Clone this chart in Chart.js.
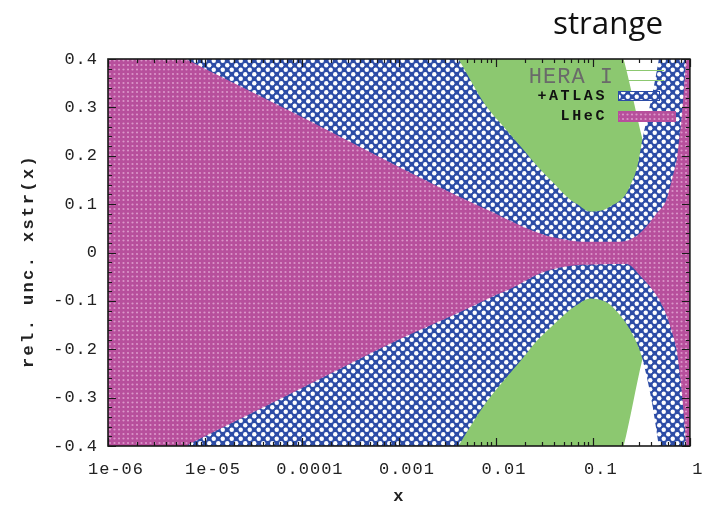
<!DOCTYPE html>
<html><head><meta charset="utf-8">
<script src="https://cdn.jsdelivr.net/npm/chart.js@4/dist/chart.umd.min.js"></script>
<style>html,body{margin:0;padding:0;background:#fff;}canvas{display:block;}</style>
</head><body>
<canvas id="c" width="708" height="508"></canvas>
<script>
// ---- tick labels ----
const xTickValues = [1e-6, 1e-5, 1e-4, 1e-3, 1e-2, 1e-1, 1];
const xTickLabels = ['1e-06', '1e-05', '0.0001', '0.001', '0.01', '0.1', '1'];
const yTickValues = [-0.4, -0.3, -0.2, -0.1, 0, 0.1, 0.2, 0.3, 0.4];
const yTickLabels = ['-0.4', '-0.3', '-0.2', '-0.1', '0', '0.1', '0.2', '0.3', '0.4'];
const seriesNames = ['HERA I', '+ATLAS', 'LHeC'];

// ---- LHeC band (upper / lower relative uncertainty) ----
const lhecX  = [1e-6, 1e-5, 1e-4, 1e-3, 0.005, 0.01, 0.0135, 0.0316, 0.063, 0.1, 0.158, 0.22, 0.32, 0.45, 0.57, 0.65, 0.74, 0.87, 0.91, 1];
const lhecUp = [0.48, 0.38, 0.28, 0.177, 0.108, 0.080, 0.067, 0.036, 0.024, 0.022, 0.022, 0.024, 0.044, 0.080, 0.108, 0.150, 0.200, 0.338, 0.40, 0.60];
const lhecLo = [-0.48, -0.38, -0.28, -0.18, -0.117, -0.088, -0.077, -0.040, -0.027, -0.025, -0.024, -0.024, -0.052, -0.088, -0.128, -0.163, -0.21, -0.34, -0.40, -0.60];

// ---- HERA I + ATLAS band ----
const atlasX  = [1e-6, 1e-4, 1e-3, 0.0025, 0.0041, 0.0079, 0.012, 0.0178, 0.0263, 0.039, 0.0575, 0.069, 0.093, 0.129, 0.151, 0.209, 0.245, 0.288, 0.324, 0.398, 0.479, 0.63, 1];
const atlasUp = [1.2, 0.95, 0.62, 0.47, 0.40, 0.303, 0.26, 0.22, 0.18, 0.144, 0.11, 0.100, 0.085, 0.088, 0.095, 0.115, 0.14, 0.179, 0.234, 0.315, 0.40, 0.55, 0.8];
const atlasLo = [-1.2, -0.95, -0.62, -0.47, -0.40, -0.31, -0.265, -0.225, -0.183, -0.15, -0.119, -0.108, -0.095, -0.10, -0.108, -0.14, -0.162, -0.19, -0.22, -0.30, -0.40, -0.55, -0.8];

// ---- HERA I band ----
const heraX  = [1e-6, 0.01, 0.1, 0.207, 0.324, 0.5, 1];
const heraUp = [1.5, 1.0, 0.6, 0.40, 0.234, 0.08, 0.02];
const heraLo = [-1.5, -1.0, -0.6, -0.40, -0.22, -0.08, -0.02];

const GREEN = '#8cc870', BLUE = '#2c4ca6', MAGENTA = '#b74f9c';

function makePattern(kind) {
  const c = document.createElement('canvas');
  c.width = 9; c.height = 9;
  const g = c.getContext('2d');
  if (kind === 'blue') {
    g.fillStyle = BLUE; g.fillRect(0, 0, 9, 9);
    g.fillStyle = '#ffffff';
    [[2.25, 2.25], [6.75, 6.75]].forEach(([cx, cy]) => { g.beginPath(); g.arc(cx, cy, 2.2, 0, Math.PI * 2); g.fill(); });
  } else {
    g.fillStyle = MAGENTA; g.fillRect(0, 0, 9, 9);
    g.fillStyle = 'rgba(228,168,212,0.8)';
    [[2, 2], [6.5, 2], [2, 6.5], [6.5, 6.5]].forEach(([cx, cy]) => { g.beginPath(); g.arc(cx, cy, 1.1, 0, Math.PI * 2); g.fill(); });
  }
  const ctx = document.getElementById('c').getContext('2d');
  return ctx.createPattern(c, 'repeat');
}
const bluePat = makePattern('blue');
const magPat = makePattern('mag');

const pts = (xs, ys) => xs.map((x, i) => ({ x, y: ys[i] }));
const band = (label, xs, up, lo, bg) => [
  { label, data: pts(xs, up), fill: '+1', backgroundColor: bg, borderColor: 'transparent' },
  { label: label + ' low', data: pts(xs, lo), fill: false, borderColor: 'transparent' }
];

const MONO = "'Liberation Mono', 'DejaVu Sans Mono', monospace";

const decor = {
  id: 'decor',
  beforeDraw(chart) { chart.ctx.letterSpacing = '1px'; },
  afterDatasetsDraw(chart) {
    const { ctx, chartArea: a, scales: { x, y } } = chart;
    ctx.save();
    ctx.letterSpacing = '0px';
    // inward ticks (both sides)
    ctx.strokeStyle = '#1a1a1a';
    ctx.lineWidth = 1.2;
    ctx.beginPath();
    for (let k = -20; k <= 20; k++) {
      const py = Math.round(y.getPixelForValue(k * 0.02)) + 0.5;
      const len = (Math.abs(k) % 5 === 0) ? 8 : 4;
      ctx.moveTo(a.left, py); ctx.lineTo(a.left + len, py);
      ctx.moveTo(a.right, py); ctx.lineTo(a.right - len, py);
    }
    for (let e = -6; e <= 0; e++) {
      for (let m = 1; m <= 9; m++) {
        const v = m * Math.pow(10, e);
        if (v > 1.0000001) break;
        const px = Math.round(x.getPixelForValue(v)) + 0.5;
        const len = m === 1 ? 8 : 4;
        ctx.moveTo(px, a.bottom); ctx.lineTo(px, a.bottom - len);
        ctx.moveTo(px, a.top); ctx.lineTo(px, a.top + len);
      }
    }
    ctx.stroke();
    ctx.lineWidth = 1.6;
    ctx.strokeRect(a.left, a.top, a.right - a.left, a.bottom - a.top);

    // legend
    ctx.textAlign = 'right'; ctx.textBaseline = 'middle';
    ctx.fillStyle = '#6a6a6a';
    ctx.font = "22px " + MONO;
    ctx.letterSpacing = '1px';
    ctx.fillText(seriesNames[0], 614, 77);
    ctx.strokeStyle = GREEN; ctx.lineWidth = 1;
    ctx.beginPath();
    ctx.moveTo(618, 70.5); ctx.lineTo(664, 70.5);
    ctx.moveTo(618, 80.5); ctx.lineTo(664, 80.5);
    ctx.stroke();
    ctx.fillStyle = '#111';
    ctx.font = "bold 15px " + MONO;
    ctx.letterSpacing = '2.6px';
    ctx.fillText(seriesNames[1], 607, 96);
    ctx.fillText(seriesNames[2], 607, 116);
    ctx.fillStyle = bluePat; ctx.fillRect(618, 91, 41, 9);
    ctx.strokeStyle = BLUE; ctx.lineWidth = 1; ctx.strokeRect(618.5, 91.5, 41, 9);
    ctx.fillStyle = magPat; ctx.fillRect(618, 111, 57, 10);
    ctx.strokeStyle = MAGENTA; ctx.strokeRect(618.5, 111.5, 57, 10);
    ctx.restore();
  },
  afterDraw(chart) {
    const { ctx, chartArea: a } = chart;
    ctx.save();
    // page title
    ctx.letterSpacing = '0px';
    ctx.fillStyle = '#111';
    ctx.textAlign = 'left'; ctx.textBaseline = 'alphabetic';
    ctx.font = "31px 'Open Sans', 'Noto Sans', sans-serif";
    const w = ctx.measureText('strange').width;
    const fs = 31 * 110 / w;
    ctx.font = fs.toFixed(1) + "px 'Open Sans', 'Noto Sans', sans-serif";
    ctx.fillText('strange', 553, 34);
    // axis titles
    ctx.fillStyle = '#222';
    ctx.font = "bold 17px " + MONO;
    ctx.textAlign = 'center'; ctx.textBaseline = 'middle';
    ctx.letterSpacing = '1px';
    ctx.fillText('x', (a.left + a.right) / 2, 497);
    ctx.translate(29, 261);
    ctx.rotate(-Math.PI / 2);
    ctx.letterSpacing = '2.4px';
    ctx.fillText('rel. unc. xstr(x)', 0, 0);
    ctx.restore();
  }
};

new Chart(document.getElementById('c'), {
  type: 'line',
  data: {
    datasets: [
      ...band(seriesNames[2], lhecX, lhecUp, lhecLo, magPat),
      ...band(seriesNames[1], atlasX, atlasUp, atlasLo, bluePat),
      ...band(seriesNames[0], heraX, heraUp, heraLo, GREEN)
    ]
  },
  options: {
    responsive: false,
    animation: false,
    devicePixelRatio: 1,
    layout: { padding: { top: 59, right: 12, bottom: 0, left: 0 } },
    plugins: { legend: { display: false }, tooltip: { enabled: false } },
    elements: {
      point: { radius: 0, hoverRadius: 0 },
      line: { borderWidth: 0, cubicInterpolationMode: 'monotone', capBezierPoints: false }
    },
    scales: {
      x: {
        type: 'logarithmic', min: 1e-6, max: 1,
        afterBuildTicks: s => { s.ticks = xTickValues.map(v => ({ value: v })); },
        afterFit: s => { s.height = 62; },
        grid: { display: false, drawTicks: false },
        border: { display: false },
        ticks: {
          autoSkip: false, maxRotation: 0, padding: 13, labelOffset: 8,
          color: '#222', font: { family: MONO, size: 17 },
          callback: (v, i) => xTickLabels[i]
        }
      },
      y: {
        type: 'linear', min: -0.4, max: 0.4,
        afterBuildTicks: s => { s.ticks = yTickValues.map(v => ({ value: v })); },
        afterFit: s => { s.width = 108; },
        grid: { display: false, drawTicks: false },
        border: { display: false },
        ticks: {
          padding: 10, color: '#222', font: { family: MONO, size: 17 },
          callback: (v, i) => yTickLabels[i]
        }
      }
    }
  },
  plugins: [decor]
});
</script>
</body></html>
